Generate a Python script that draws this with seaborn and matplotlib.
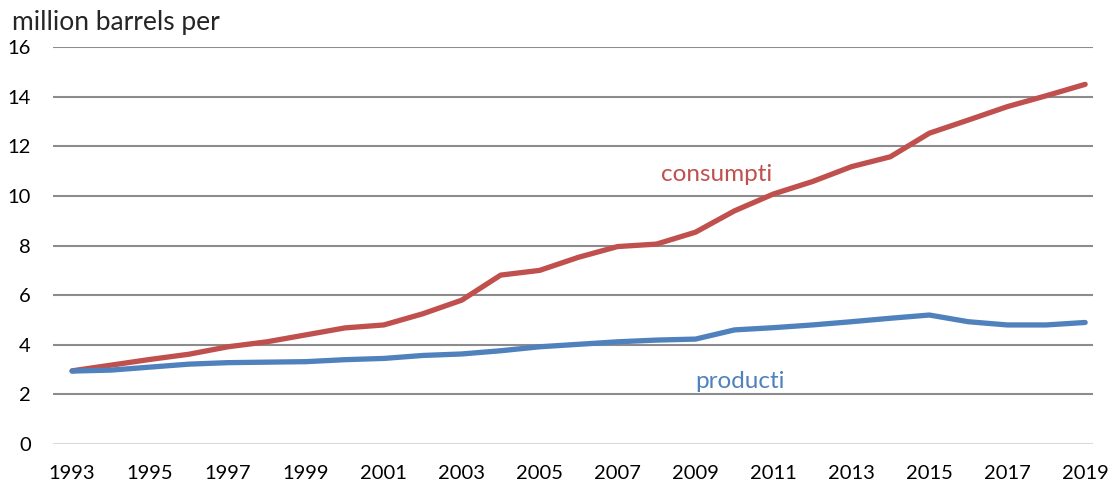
import numpy as np
import pandas as pd
import seaborn as sns
import matplotlib.pyplot as plt

# dados
anos = list(range(1993, 2020))
consumo = [2.95, 3.18, 3.41, 3.62, 3.92, 4.12, 4.40, 4.68, 4.80, 5.25, 5.80, 6.81, 7.00, 7.53,
           7.96, 8.06, 8.54, 9.40, 10.08, 10.58, 11.18, 11.58, 12.53, 13.06, 13.60, 14.04, 14.50]
producao = [2.94, 2.98, 3.10, 3.22, 3.28, 3.30, 3.32, 3.40, 3.45, 3.57, 3.63, 3.76, 3.92, 4.02,
            4.12, 4.19, 4.23, 4.60, 4.69, 4.80, 4.93, 5.07, 5.20, 4.93, 4.80, 4.80, 4.90]
series = ['consumpti', 'producti']
cores = ['#C0504D', '#4F81BD']

df = pd.DataFrame({'ano': anos * 2,
                   'valor': consumo + producao,
                   'serie': [series[0]] * len(anos) + [series[1]] * len(anos)})

sns.set_style('white')
plt.rcParams['font.family'] = ['Lato', 'DejaVu Sans']

fig = plt.figure(figsize=(11.18, 4.91), dpi=100)
ax = fig.add_axes([0.0474, 0.0957, 0.9302, 0.8083])

for y in range(2, 17, 2):
    ax.axhline(y, color='#8c8c8c', lw=1.5, zorder=0)
ax.axhline(0, color='#d9d9d9', lw=1.5, zorder=0)

sns.lineplot(data=df, x='ano', y='valor', hue='serie', palette=cores, lw=3.8,
             legend=False, ax=ax, solid_capstyle='round')

ax.set_xlim(1992.51, 2019.2)
ax.set_ylim(0, 16)
ax.set_xticks(range(1993, 2020, 2))
ax.set_yticks(range(0, 17, 2))
ax.tick_params(axis='both', labelsize=14.5, length=0, colors='black')
ax.tick_params(axis='x', pad=15)
ax.tick_params(axis='y', pad=16)
ax.set_xlabel('')
ax.set_ylabel('')
sns.despine(ax=ax, left=True, bottom=True)

ax.text(2009.55, 10.85, 'consumpti', color=cores[0], fontsize=17.5, ha='center', va='center')
ax.text(2010.15, 2.5, 'producti', color=cores[1], fontsize=17.5, ha='center', va='center')
fig.text(0.011, 0.955, 'million barrels per', fontsize=19, ha='left', va='center')

fig.savefig('out.png', dpi=100)
